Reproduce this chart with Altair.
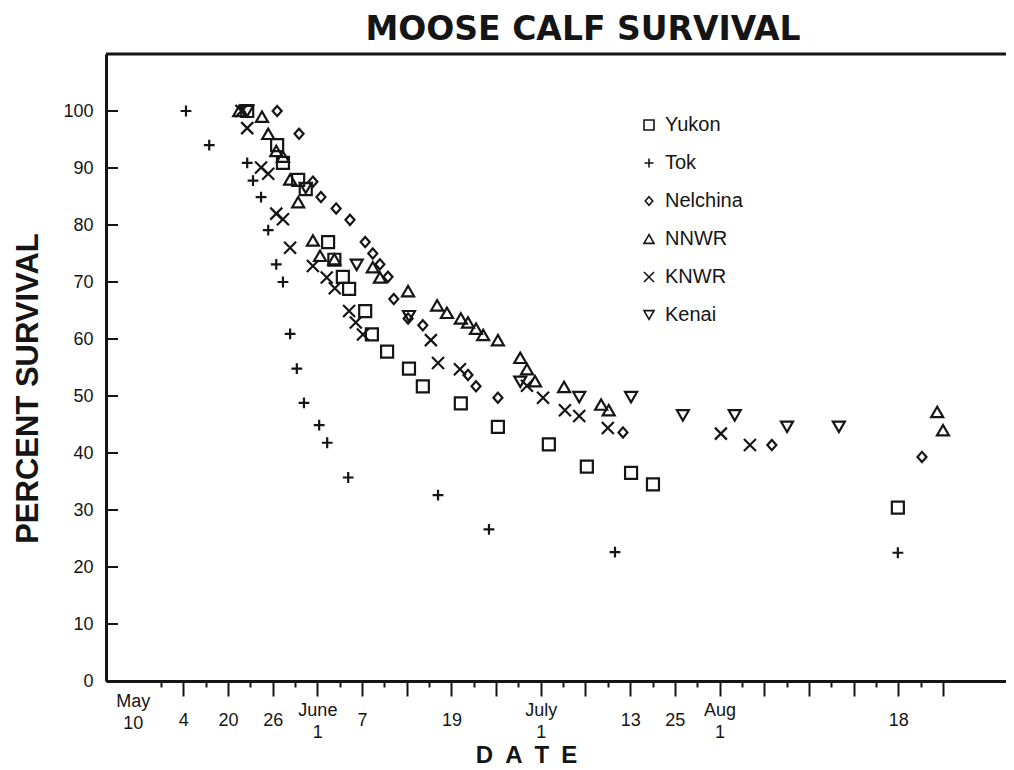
import json
import altair as alt
import pandas as pd

FONT = "Liberation Sans"
TITLE_FONT = "DejaVu Sans"
INK = "#151515"

sites = ["Yukon", "Tok", "Nelchina", "NNWR", "KNWR", "Kenai"]

# x positions are in axis-tick units (one long tick = one unit)
yukon_t = [1.43, 2.10, 2.23, 2.57, 2.74, 3.24, 3.38, 3.57, 3.71, 4.07, 4.22, 4.56,
           5.05, 5.36, 6.21, 7.04, 8.18, 9.03, 10.02, 10.51, 15.99]
yukon_p = [100, 94, 90.9, 87.9, 86.3, 77, 73.9, 70.9, 68.8, 64.9, 60.8, 57.8,
           54.8, 51.7, 48.7, 44.6, 41.5, 37.6, 36.5, 34.5, 30.4]

tok_t = [0.06, 0.58, 1.43, 1.56, 1.74, 1.90, 2.08, 2.23, 2.39, 2.54, 2.70, 3.04,
         3.22, 3.69, 5.70, 6.84, 9.66, 15.99]
tok_p = [100, 94, 90.9, 87.8, 84.9, 79.1, 73.1, 70, 60.9, 54.8, 48.8, 44.9,
         41.8, 35.7, 32.6, 26.6, 22.6, 22.5]

nelchina_t = [2.10, 2.59, 2.90, 3.08, 3.42, 3.73, 4.07, 4.24, 4.40, 4.58, 4.71,
              5.03, 5.36, 6.37, 6.55, 7.04, 9.84, 13.17, 16.53]
nelchina_p = [100, 96, 87.6, 84.9, 82.9, 80.9, 77, 75, 73.1, 70.9, 67,
              63.6, 62.4, 53.7, 51.7, 49.7, 43.6, 41.4, 39.3]

nnwr_t = [1.25, 1.76, 1.90, 2.08, 2.23, 2.39, 2.57, 2.90, 3.06, 3.38, 4.24, 4.40,
          5.03, 5.68, 5.90, 6.21, 6.37, 6.55, 6.71, 7.04, 7.54, 7.69, 7.87, 8.52,
          9.35, 9.52, 16.87, 17.00]
nnwr_p = [100, 99, 96, 93, 92, 88, 84, 77.3, 74.6, 74, 72.6, 70.8,
          68.4, 65.9, 64.6, 63.6, 62.9, 61.8, 60.7, 59.8, 56.7, 54.7, 52.6, 51.6,
          48.5, 47.5, 47.2, 44.0]

knwr_t = [1.30, 1.43, 1.74, 1.90, 2.08, 2.23, 2.39, 2.90, 3.21, 3.39, 3.71, 3.86,
          4.02, 5.54, 5.70, 6.19, 7.69, 8.05, 8.54, 8.86, 9.50, 12.03, 12.68]
knwr_p = [100, 97, 90.1, 89, 82, 81, 76, 72.8, 70.8, 68.9, 64.9, 62.9,
          60.8, 59.8, 55.8, 54.7, 51.8, 49.7, 47.5, 46.5, 44.4, 43.4, 41.4]

kenai_t = [1.43, 2.74, 3.88, 5.05, 7.54, 8.86, 10.02, 11.18, 12.34, 13.51, 14.67]
kenai_p = [100, 86.5, 73, 64, 52.5, 49.8, 49.8, 46.6, 46.6, 44.6, 44.6]

# axis labels
y_tick_values = [0, 10, 20, 30, 40, 50, 60, 70, 80, 90, 100]
x_label_pos = [-1.13, 0, 1, 2, 3, 4, 6, 8, 10, 11, 12, 16]
x_label_text = [["May", "10"], "4", "20", "26", ["June", "1"], "7", "19",
                ["July", "1"], "13", "25", ["Aug", "1"], "18"]
x_tick_values = [-1.13] + [k / 2 for k in range(-1, 35)]

series = [yukon_t, tok_t, nelchina_t, nnwr_t, knwr_t, kenai_t]
values = [yukon_p, tok_p, nelchina_p, nnwr_p, knwr_p, kenai_p]
rows = []
for site, ts, ps in zip(sites, series, values):
    for t, p in zip(ts, ps):
        rows.append({"site": site, "t": t, "pct": p})
df = pd.DataFrame(rows)

shapes = [
    "square",
    "M-0.9,0H0.9M0,-0.9V0.9",
    "M0,-0.85L0.75,0L0,0.85L-0.75,0Z",
    "triangle-up",
    "M-1,-1L1,1M1,-1L-1,1",
    "triangle-down",
]

label_expr = (
    json.dumps(x_label_text)
    + "[indexof(" + json.dumps(x_label_pos) + ", datum.value)] || ''"
)
multi_pos = [p for p, t in zip(x_label_pos, x_label_text) if isinstance(t, list)]
multi_test = "indexof(" + json.dumps(multi_pos) + ", datum.value) >= 0"

x_scale = alt.Scale(domain=[-1.73, 18.41], nice=False, zero=False)
y_scale = alt.Scale(domain=[0, 110], nice=False, zero=True)

x_axis = alt.Axis(
    values=x_tick_values,
    labelExpr=label_expr,
    labelOverlap=False,
    labelFlush=False,
    labelBound=False,
    labelFont=FONT,
    labelFontSize=18,
    labelColor=INK,
    labelBaseline="middle",
    labelLineHeight=22,
    labelPadding={"condition": {"test": multi_test, "value": 14}, "value": 24},
    tickSize={"condition": {"test": "datum.value % 1 === 0", "value": 15}, "value": 6},
    tickOpacity={"condition": {"test": "datum.value < -1", "value": 0}, "value": 1},
    tickWidth=2,
    tickColor=INK,
    domainWidth=3,
    domainColor=INK,
    grid=False,
    title="D\u2002A\u2002T\u2002E",
    titleFont=FONT,
    titleFontSize=24,
    titleFontWeight="bold",
    titleColor=INK,
    titleX=420,
    titleY=74,
    titleAlign="center",
    titleBaseline="middle",
)

y_axis = alt.Axis(
    values=y_tick_values,
    ticks=False,
    labelFont=FONT,
    labelFontSize=18,
    labelColor=INK,
    labelPadding=13,
    domainWidth=3,
    domainColor=INK,
    grid=False,
    title="PERCENT SURVIVAL",
    titleFont=FONT,
    titleFontSize=31,
    titleFontWeight="bold",
    titleColor=INK,
    titleX=-78,
    titleY=334,
    titleAngle=270,
    titleAlign="center",
    titleBaseline="middle",
)

points = alt.Chart(df).mark_point(
    filled=False, size=144, strokeWidth=2.2, opacity=1, color=INK
).encode(
    x=alt.X("t:Q", scale=x_scale, axis=x_axis),
    y=alt.Y("pct:Q", scale=y_scale, axis=y_axis),
    shape=alt.Shape(
        "site:N",
        scale=alt.Scale(domain=sites, range=shapes),
        legend=alt.Legend(
            orient="none",
            legendX=533,
            legendY=61,
            title=None,
            padding=0,
            labelFont=FONT,
            labelFontSize=20,
            labelColor=INK,
            labelOffset=6,
            symbolSize=100,
            symbolStrokeWidth=1.6,
            symbolStrokeColor=INK,
            rowPadding=18,
        ),
    ),
)

y_ticks = alt.Chart(pd.DataFrame({"v": y_tick_values})).mark_rule(
    color=INK, strokeWidth=2
).encode(
    y=alt.Y("v:Q", scale=y_scale, axis=y_axis),
    x=alt.value(0),
    x2=alt.value(12),
)

top_line = alt.Chart(pd.DataFrame({"v": [110]})).mark_rule(
    color=INK, strokeWidth=3
).encode(
    y=alt.Y("v:Q", scale=y_scale, axis=y_axis),
)

chart = alt.layer(top_line, y_ticks, points).properties(
    width=900,
    height=627,
    title=alt.Title(
        "MOOSE CALF SURVIVAL",
        font=TITLE_FONT,
        fontSize=33,
        fontWeight="bold",
        color=INK,
        anchor="middle",
        frame="group",
        dx=27,
        offset=6,
    ),
    autosize=alt.AutoSizeParams(type="none"),
    padding={"left": 98, "top": 46, "right": 0, "bottom": 90},
).configure_view(stroke=None).configure(font=FONT, background="white")

chart.save("out.html", embed_options={"renderer": "svg", "actions": False})
